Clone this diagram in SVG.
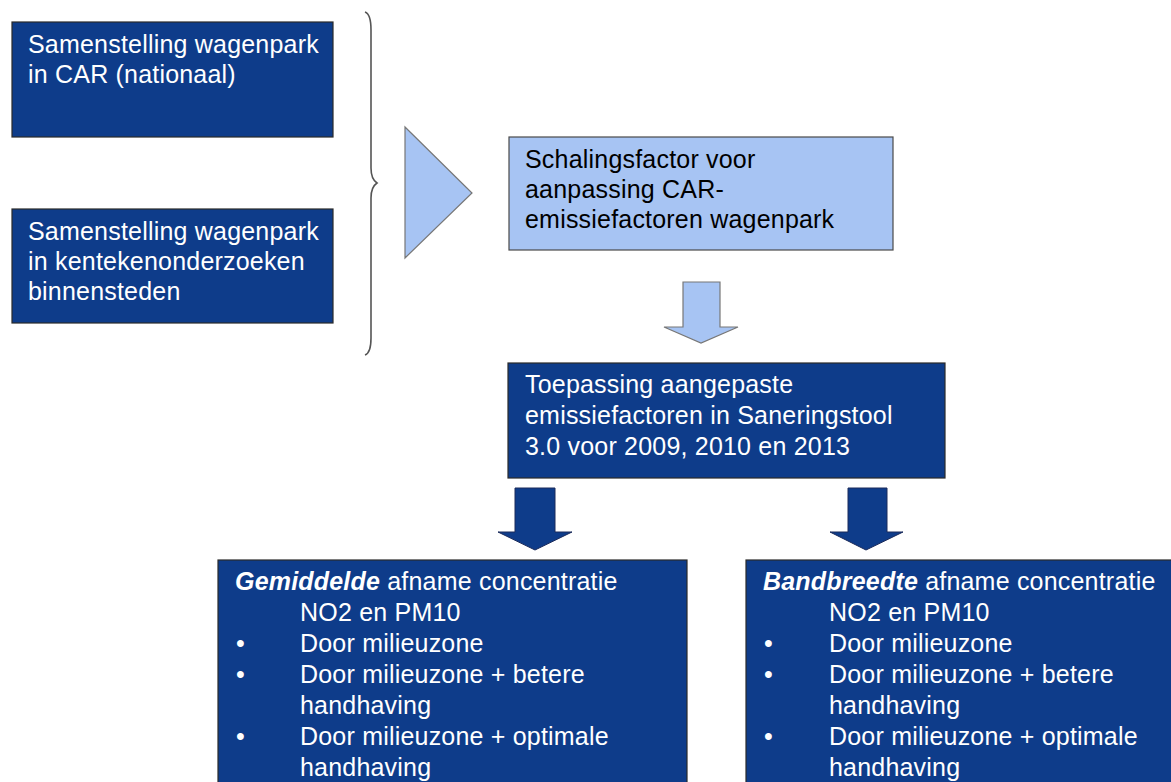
<svg xmlns="http://www.w3.org/2000/svg" width="1171" height="782" viewBox="0 0 1171 782">
<style>
.dark{fill:#0e3c8a;stroke:#2a2a2a;stroke-width:1.2}
.light{fill:#a7c4f3;stroke:#4a4a4a;stroke-width:1.2}
.t{font-family:"Liberation Sans",Arial,sans-serif;font-size:25px;letter-spacing:0.2px}
.w{fill:#ffffff}
.b{fill:#000000}
.bi{font-weight:bold;font-style:italic}
.arrD{fill:#0e3c8a;stroke:#1a2a5a;stroke-width:1}
.arrL{fill:#a7c4f3;stroke:#777777;stroke-width:1.2}
</style>
<rect width="1171" height="782" fill="#ffffff"/>
<g id="node-car">
<rect class="dark" x="12" y="22" width="321" height="115"/>
<text class="t w" x="28" y="53">Samenstelling wagenpark</text>
<text class="t w" x="28" y="83">in CAR (nationaal)</text>
</g>
<g id="node-kenteken">
<rect class="dark" x="12" y="209" width="321" height="114"/>
<text class="t w" x="28" y="240">Samenstelling wagenpark</text>
<text class="t w" x="28" y="270">in kentekenonderzoeken</text>
<text class="t w" x="28" y="300">binnensteden</text>
</g>
<g id="node-schaling">
<rect class="light" x="509" y="137" width="384" height="113"/>
<text class="t b" x="525" y="168">Schalingsfactor voor</text>
<text class="t b" x="525" y="198">aanpassing CAR-</text>
<text class="t b" x="525" y="228">emissiefactoren wagenpark</text>
</g>
<g id="node-toepassing">
<rect class="dark" x="508" y="363" width="437" height="115"/>
<text class="t w" x="525" y="393">Toepassing aangepaste</text>
<text class="t w" x="525" y="424">emissiefactoren in Saneringstool</text>
<text class="t w" x="525" y="455">3.0 voor 2009, 2010 en 2013</text>
</g>
<g id="node-gemiddelde">
<rect class="dark" x="218" y="560" width="469" height="240"/>
<text class="t w" x="235" y="590"><tspan class="bi">Gemiddelde</tspan> afname concentratie</text>
<text class="t w" x="300" y="621">NO2 en PM10</text>
<text class="t w" x="236" y="652">•</text>
<text class="t w" x="300" y="652">Door milieuzone</text>
<text class="t w" x="236" y="683">•</text>
<text class="t w" x="300" y="683">Door milieuzone + betere</text>
<text class="t w" x="300" y="714">handhaving</text>
<text class="t w" x="236" y="745">•</text>
<text class="t w" x="300" y="745">Door milieuzone + optimale</text>
<text class="t w" x="300" y="776">handhaving</text>
</g>
<g id="node-bandbreedte">
<rect class="dark" x="746" y="560" width="440" height="240"/>
<text class="t w" x="763" y="590"><tspan class="bi">Bandbreedte</tspan> afname concentratie</text>
<text class="t w" x="829" y="621">NO2 en PM10</text>
<text class="t w" x="764" y="652">•</text>
<text class="t w" x="829" y="652">Door milieuzone</text>
<text class="t w" x="764" y="683">•</text>
<text class="t w" x="829" y="683">Door milieuzone + betere</text>
<text class="t w" x="829" y="714">handhaving</text>
<text class="t w" x="764" y="745">•</text>
<text class="t w" x="829" y="745">Door milieuzone + optimale</text>
<text class="t w" x="829" y="776">handhaving</text>
</g>
<g id="connectors">
<path d="M365,12 Q371,14 371,30 L371,168 Q371,179 377,183 Q371,187 371,198 L371,338 Q371,353 365,355" fill="none" stroke="#555555" stroke-width="1.6"/>
<polygon class="arrL" points="405,127 472,193 405,258"/>
<polygon class="arrL" points="683,282 720,282 720,327 738,327 701,343 664,327 683,327"/>
<polygon class="arrD" points="515,488 555,488 555,532 572,532 535,550 498,532 515,532"/>
<polygon class="arrD" points="848,488 887,488 887,532 903,532 866,550 830,532 848,532"/>
</g>
</svg>
